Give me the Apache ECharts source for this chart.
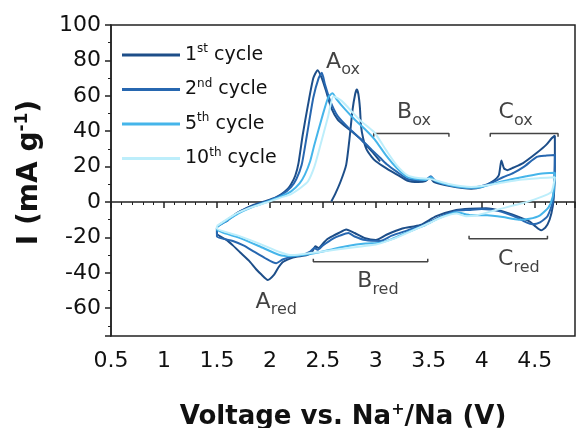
<!DOCTYPE html>
<html style="height: 100%">

<head>
    <meta charset="utf-8">
</head>

<body style="height: 100%; margin: 0; background: #fff">
    <div id="container" style="width: 576px; height: 428px"></div>

    <script type="text/javascript" src="https://cdn.jsdelivr.net/npm/echarts@6/dist/echarts.min.js"></script>
    <script type="text/javascript">
        var chartDom = document.getElementById('container');
        var myChart = echarts.init(chartDom);
        var option;

        // legend / series names
        var cycleNames = ['1st cycle', '2nd cycle', '5th cycle', '10th cycle'];
        var cycleColors = ['#1d4e89', '#2767b0', '#45b5ea', '#bdeefb'];

        // [voltage (V), current (mA/g)], in scan order
        var cycle1 = [
            [2.58, 0.3], [2.62, 5], [2.67, 12], [2.72, 21], [2.75, 35], [2.78, 52], [2.805, 61], [2.82, 63.5],
            [2.835, 61], [2.85, 53], [2.86, 43], [2.88, 36], [2.91, 30], [2.96, 25.5], [3.0, 23], [3.1, 19],
            [3.2, 15.5], [3.3, 12], [3.4, 11.3], [3.47, 11.8], [3.51, 13.8], [3.55, 11.3], [3.7, 9], [3.9, 7.5],
            [4.0, 8.5], [4.1, 11.5], [4.16, 15], [4.185, 23.5], [4.21, 19], [4.24, 18], [4.3, 19.5], [4.39, 22],
            [4.52, 27.8], [4.61, 32.4], [4.66, 36], [4.69, 37.5],
            [4.69, 20], [4.685, 8], [4.67, -2.5], [4.64, -10], [4.6, -14.5], [4.56, -16], [4.5, -13.5], [4.45, -11],
            [4.33, -8], [4.2, -5.3], [4.04, -3.5], [3.89, -3.8], [3.76, -4.5], [3.57, -8], [3.42, -13], [3.25, -15],
            [3.1, -18.5], [3.0, -21.5], [2.9, -20.5], [2.8, -17.5], [2.72, -15.5], [2.65, -17.5], [2.6, -19],
            [2.54, -21], [2.5, -23.5], [2.46, -26], [2.43, -25], [2.4, -28], [2.35, -30], [2.25, -31], [2.19, -32],
            [2.12, -34], [2.08, -37], [2.04, -41], [1.98, -44], [1.92, -41], [1.87, -38], [1.8, -33], [1.72, -28.5],
            [1.65, -24.5], [1.59, -21.4], [1.5, -18],
            [1.5, -14.5], [1.6, -10], [1.7, -5.8], [1.85, -1.5], [1.97, 0.8], [2.05, 2.5], [2.11, 4.5], [2.17, 7.5],
            [2.2, 10], [2.24, 15], [2.27, 22], [2.31, 38], [2.36, 55], [2.41, 70], [2.45, 74.5], [2.49, 70],
            [2.53, 62.7], [2.58, 53], [2.64, 46.6], [2.71, 42.8], [2.79, 39], [2.86, 35.3], [2.96, 28.7], [3.04, 23]
        ];
        var cycle2 = [
            [2.96, 29.6], [3.04, 25], [3.1, 21.5], [3.2, 17], [3.3, 13], [3.4, 12.3], [3.47, 12.5], [3.52, 14.5],
            [3.56, 12], [3.7, 9.5], [3.9, 8], [4.0, 9], [4.1, 11], [4.2, 14], [4.3, 16.5], [4.4, 20], [4.52, 25.5],
            [4.6, 26.2], [4.69, 26.5],
            [4.685, 12.6], [4.67, 0], [4.62, -8], [4.55, -11.5], [4.48, -12.5], [4.42, -11.5], [4.3, -8], [4.15, -5],
            [4.0, -4], [3.88, -4.5], [3.76, -5], [3.6, -8.5], [3.45, -13], [3.3, -16], [3.15, -19], [3.04, -22],
            [2.9, -21.5], [2.8, -19.5], [2.74, -17.5], [2.66, -19], [2.6, -20.5], [2.5, -24.5], [2.45, -27],
            [2.42, -26], [2.38, -28], [2.3, -30], [2.2, -31], [2.12, -32.5], [2.06, -34.6], [1.95, -31.5],
            [1.85, -28], [1.75, -24.5], [1.65, -22], [1.5, -19.5],
            [1.5, -14.5], [1.6, -10.5], [1.7, -6], [1.85, -2], [1.97, 0.3], [2.11, 4], [2.2, 8.5], [2.25, 13],
            [2.3, 21], [2.35, 38], [2.41, 59], [2.46, 70], [2.49, 73], [2.52, 66.4], [2.57, 57], [2.64, 48.5],
            [2.74, 42], [2.85, 36], [2.96, 29.6]
        ];
        var cycle5 = [
            [1.5, -14], [1.6, -10.2], [1.7, -6.5], [1.85, -2.5], [1.97, 0], [2.1, 3], [2.2, 6], [2.28, 10.5],
            [2.33, 15.5], [2.38, 23], [2.42, 32.4], [2.5, 49.5], [2.55, 59], [2.59, 61.4], [2.63, 58], [2.71, 52.3],
            [2.8, 46.6], [2.9, 41], [2.99, 35.3], [3.1, 26], [3.2, 19], [3.3, 14], [3.4, 12.8], [3.47, 12.5],
            [3.52, 14], [3.56, 12], [3.7, 9.5], [3.9, 8], [4.0, 8.5], [4.2, 11.7], [4.42, 14.5], [4.55, 16],
            [4.69, 16.5],
            [4.685, 10], [4.67, 3], [4.63, -3], [4.55, -7.5], [4.45, -9.5], [4.35, -10], [4.2, -8.5], [4.05, -7.5],
            [3.9, -7.5], [3.76, -5.8], [3.6, -9], [3.45, -13.5], [3.3, -17], [3.15, -21], [3.04, -23], [2.9, -23.5],
            [2.72, -25], [2.6, -26.5], [2.5, -28], [2.31, -30], [2.19, -30.5], [2.09, -29.9], [1.9, -25], [1.7, -20],
            [1.5, -15.7], [1.5, -14]
        ];
        var cycle10 = [
            [1.5, -13.5], [1.6, -9.5], [1.7, -6], [1.85, -2.5], [1.97, -0.3], [2.1, 2.5], [2.2, 4.5], [2.3, 8.5],
            [2.36, 11.7], [2.42, 20], [2.47, 30.6], [2.55, 48.5], [2.6, 59.8], [2.68, 57], [2.77, 51.3], [2.86, 45.7],
            [2.99, 39], [3.1, 29], [3.2, 20.5], [3.3, 15], [3.4, 13.5], [3.5, 13.2], [3.55, 12.5], [3.7, 10],
            [3.9, 8.5], [4.0, 9], [4.2, 11], [4.36, 12.6], [4.55, 13.5], [4.69, 14],
            [4.685, 12], [4.66, 6], [4.61, 4], [4.5, 1.5], [4.39, -0.6], [4.14, -4.4], [3.95, -7.5], [3.85, -8],
            [3.76, -6.5], [3.63, -8.5], [3.5, -12], [3.35, -16], [3.16, -21], [3.0, -24], [2.8, -25.5], [2.5, -28],
            [2.3, -29.5], [2.19, -30], [2.09, -28.2], [1.9, -23.5], [1.7, -19], [1.5, -15], [1.5, -13.5]
        ];
        var cycleData = [cycle1, cycle2, cycle5, cycle10];

        // peak annotations (label, subscript, position in data units)
        var annotText = ['A', 'B', 'C', 'A', 'B', 'C'];
        var annotSub = ['ox', 'ox', 'ox', 'red', 'red', 'red'];
        var annotX = [2.69, 3.36, 4.32, 2.06, 3.02, 4.35];
        var annotY = [79, 50.5, 50.5, -56.5, -45, -32.5];

        // brackets under / over the peak labels
        var bracketX1 = [2.98, 4.08, 2.41, 3.88];
        var bracketX2 = [3.69, 4.72, 3.49, 4.62];
        var bracketY = [38.7, 38.7, -33.8, -20.8];
        var bracketTick = [-1.8, -1.8, 1.8, 1.8];

        var font = 'DejaVu Sans';

        var series = cycleNames.map(function (name, i) {
            return {
                name: name,
                type: 'line',
                symbol: 'none',
                smooth: 0.2,
                lineStyle: { width: 2, color: cycleColors[i] },
                itemStyle: { color: cycleColors[i] },
                data: cycleData[i],
                z: 2 + i
            };
        });

        bracketX1.forEach(function (x1, i) {
            series.push({
                name: 'bracket' + i,
                type: 'line',
                symbol: 'none',
                silent: true,
                lineStyle: { width: 1.5, color: '#444' },
                data: [
                    [x1, bracketY[i] + bracketTick[i]],
                    [x1, bracketY[i]],
                    [bracketX2[i], bracketY[i]],
                    [bracketX2[i], bracketY[i] + bracketTick[i]]
                ]
            });
        });

        series.push({
            name: 'labels',
            type: 'scatter',
            symbolSize: 1,
            silent: true,
            itemStyle: { color: 'rgba(0,0,0,0)' },
            label: {
                show: true,
                position: 'inside',
                fontFamily: font,
                fontSize: 22,
                color: '#111',
                formatter: function (p) {
                    return p.data.name + '{sub|' + p.data.sub + '}';
                },
                rich: {
                    sub: { fontFamily: font, fontSize: 16, color: '#111', padding: [16, 0, 0, 0] }
                }
            },
            data: annotText.map(function (t, i) {
                return { name: t, sub: annotSub[i], value: [annotX[i], annotY[i]] };
            })
        });

        option = {
            backgroundColor: '#fff',
            animation: false,
            grid: {
                left: 111,
                right: 1,
                top: 25,
                bottom: 92,
                show: true,
                borderColor: '#222',
                borderWidth: 1.5,
                containLabel: false,
                outerBoundsMode: 'none'
            },
            legend: {
                data: cycleNames,
                orient: 'vertical',
                left: 117,
                top: 38,
                itemWidth: 58,
                itemHeight: 22,
                itemGap: 13,
                icon: 'path://M0,0 L58,0 L58,3 L0,3 Z',
                textStyle: {
                    fontFamily: font,
                    fontSize: 19,
                    color: '#111',
                    rich: {
                        sup: { fontFamily: font, fontSize: 12, color: '#111', padding: [0, 0, 12, 0] }
                    }
                },
                formatter: function (name) {
                    return name.replace(/^(\d+)(st|nd|rd|th)/, '$1{sup|$2}');
                }
            },
            xAxis: {
                type: 'value',
                min: 0.5,
                max: 4.88,
                splitNumber: 9,
                name: 'Voltage vs. Na{sup|+}/Na (V)',
                nameLocation: 'middle',
                nameGap: 66,
                nameTextStyle: {
                    fontFamily: font,
                    fontSize: 26,
                    fontWeight: 'bold',
                    color: '#111',
                    rich: {
                        sup: { fontFamily: font, fontSize: 16, fontWeight: 'bold', color: '#111', padding: [0, 0, 14, 0] }
                    }
                },
                axisLine: { lineStyle: { color: '#222', width: 1.5 } },
                axisTick: { length: 6, lineStyle: { color: '#222', width: 1.5 } },
                minorTick: { show: true, splitNumber: 5, length: 3, lineStyle: { color: '#222', width: 1 } },
                axisLabel: { fontFamily: font, fontSize: 22, color: '#111', margin: 14, showMaxLabel: false },
                splitLine: { show: false }
            },
            yAxis: {
                type: 'value',
                min: -75.7,
                max: 100,
                splitNumber: 9,
                name: 'I (mA g{sup|-1})',
                nameLocation: 'middle',
                nameGap: 66,
                nameTextStyle: {
                    fontFamily: font,
                    fontSize: 28,
                    fontWeight: 'bold',
                    color: '#111',
                    padding: [0, 0, 0, 16],
                    rich: {
                        sup: { fontFamily: font, fontSize: 17, fontWeight: 'bold', color: '#111', padding: [0, 0, 14, 0] }
                    }
                },
                axisLine: { show: true, lineStyle: { color: '#222', width: 1.5 } },
                axisTick: { show: true, length: 6, lineStyle: { color: '#222', width: 1.5 } },
                minorTick: { show: true, splitNumber: 2, length: 3, lineStyle: { color: '#222', width: 1 } },
                axisLabel: { fontFamily: font, fontSize: 22, color: '#111', margin: 10, showMinLabel: false },
                splitLine: { show: false }
            },
            series: series
        };

        option && myChart.setOption(option);
    </script>
</body>

</html>
